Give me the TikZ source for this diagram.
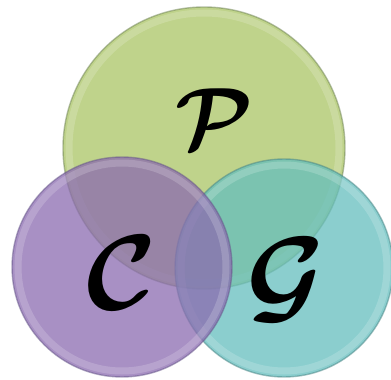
\documentclass[tikz,border=0pt]{standalone}
\usepackage{amsmath}
\usepackage{bm}
\definecolor{pgreen}{RGB}{170,196,100}
\definecolor{cpurple}{RGB}{139,107,176}
\definecolor{gteal}{RGB}{100,190,190}
\definecolor{pgreenB}{RGB}{110,130,85}
\definecolor{cpurpleB}{RGB}{100,85,135}
\definecolor{gtealB}{RGB}{70,130,130}
\tikzset{
  venn/.style={circle, minimum size=#1, inner sep=0pt, fill opacity=0.75},
  glow/.style={draw=white, draw opacity=0.18, line width=7pt},
  rim/.style={draw opacity=0.5, line width=1.4pt},
  letter/.style={inner sep=0pt, text=black, text opacity=1, font=\Huge}
}
\begin{document}
\begin{tikzpicture}[x=1pt,y=-1pt]
\useasboundingbox (0,0) rectangle (391,380);
\node[venn=282pt, fill=pgreen] (P) at (204,148) {};
\draw[glow] (P.center) circle[radius=135pt];
\draw[rim, pgreenB] (P.center) circle[radius=141pt];
\node[venn=218pt, fill=gteal] (G) at (284,268) {};
\draw[glow] (G.center) circle[radius=103pt];
\draw[rim, gtealB] (G.center) circle[radius=109pt];
\node[venn=220pt, fill=cpurple] (C) at (122,267) {};
\draw[glow] (C.center) circle[radius=104pt];
\draw[rim, cpurpleB] (C.center) circle[radius=110pt];
\node[letter, scale=3.5] (lp) at (214,119) {$\bm{\mathcal{P}}$};
\node[letter, scale=4.3] (lc) at (122,273) {$\bm{\mathcal{C}}$};
\node[letter, scale=4.3] (lg) at (286,280) {$\bm{\mathcal{G}}$};
\end{tikzpicture}
\end{document}
